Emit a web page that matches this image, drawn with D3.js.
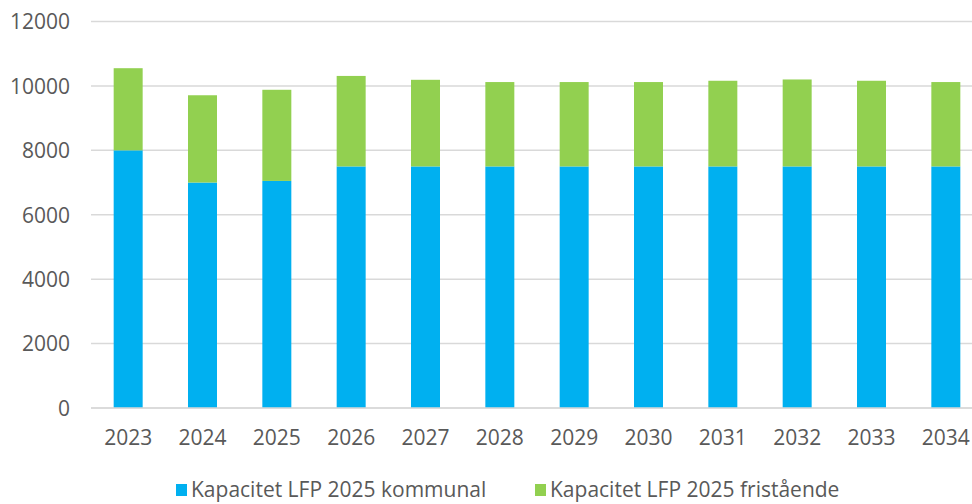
<!DOCTYPE html>
<html>
<head>
<meta charset="utf-8">
<script src="https://cdn.jsdelivr.net/npm/d3@7"></script>
<style>
  body { margin: 0; background: #fff; }
  text { font-family: "Open Sans", "Segoe UI", sans-serif; fill: #595959; }
</style>
</head>
<body>
<div id="chart"></div>
<script>
// Data
const years = ["2023", "2024", "2025", "2026", "2027", "2028", "2029", "2030", "2031", "2032", "2033", "2034"];
const kommunal = [8000, 7000, 7050, 7500, 7500, 7500, 7500, 7500, 7500, 7500, 7500, 7500];
const fristaende = [2550, 2710, 2830, 2810, 2690, 2620, 2620, 2620, 2660, 2700, 2660, 2620];
const seriesNames = ["Kapacitet LFP 2025 kommunal", "Kapacitet LFP 2025 fristående"];
const colors = ["#00B0F0", "#92D050"];
const yTicks = [0, 2000, 4000, 6000, 8000, 10000, 12000];

const W = 972, H = 504;
const margin = {top: 21.5, right: 0, bottom: 96, left: 91};
const plotRight = 983; // plot area runs past the right edge of the picture

const svg = d3.select("#chart")
  .append("svg")
    .attr("width", W)
    .attr("height", H);

// Scales
const x = d3.scaleBand()
  .domain(years)
  .range([margin.left, plotRight])
  .paddingInner(0.61)
  .paddingOuter(0.305);

const y = d3.scaleLinear()
  .domain([0, 12000])
  .range([H - margin.bottom, margin.top]);

// Gridlines
svg.append("g")
  .selectAll("line")
  .data(yTicks)
  .enter()
  .append("line")
    .attr("x1", margin.left)
    .attr("x2", plotRight)
    .attr("y1", d => y(d))
    .attr("y2", d => y(d))
    .attr("stroke", "#d9d9d9")
    .attr("stroke-width", 1.5);

// Y axis labels
svg.append("g")
  .attr("transform", `translate(${margin.left - 21},0)`)
  .call(d3.axisLeft(y).tickValues(yTicks).tickFormat(d3.format("d")).tickSize(0).tickPadding(0))
  .call(g => g.select(".domain").remove())
  .selectAll("text")
    .style("font-size", "21px")
    .attr("fill", "#595959")
    .attr("dy", "0.35em");

// Stacked bars
const rows = years.map((yr, i) => ({year: yr, kommunal: kommunal[i], fristaende: fristaende[i]}));
const stacked = d3.stack().keys(["kommunal", "fristaende"])(rows);

svg.append("g")
  .selectAll("g")
  .data(stacked)
  .enter()
  .append("g")
    .attr("fill", (d, i) => colors[i])
  .selectAll("rect")
  .data(d => d)
  .enter()
  .append("rect")
    .attr("x", d => x(d.data.year))
    .attr("y", d => y(d[1]))
    .attr("width", x.bandwidth())
    .attr("height", d => y(d[0]) - y(d[1]));

// Baseline redrawn on top
svg.append("line")
  .attr("x1", margin.left)
  .attr("x2", plotRight)
  .attr("y1", y(0))
  .attr("y2", y(0))
  .attr("stroke", "#d9d9d9")
  .attr("stroke-width", 1.5);

// X axis labels
svg.append("g")
  .attr("transform", `translate(0,${y(0) + 22})`)
  .call(d3.axisBottom(x).tickSize(0).tickPadding(0))
  .call(g => g.select(".domain").remove())
  .selectAll("text")
    .style("font-size", "21px")
    .attr("fill", "#595959")
    .attr("dy", "0.71em");

// Legend
const legendX = [176, 535];
const legend = svg.append("g")
  .attr("transform", `translate(0,490)`);

seriesNames.forEach((name, i) => {
  legend.append("rect")
    .attr("x", legendX[i])
    .attr("y", -6)
    .attr("width", 11)
    .attr("height", 12)
    .attr("fill", colors[i]);
  legend.append("text")
    .attr("x", legendX[i] + 15)
    .attr("y", 0)
    .attr("dy", "0.35em")
    .style("font-size", "21px")
    .text(name);
});
</script>
</body>
</html>
